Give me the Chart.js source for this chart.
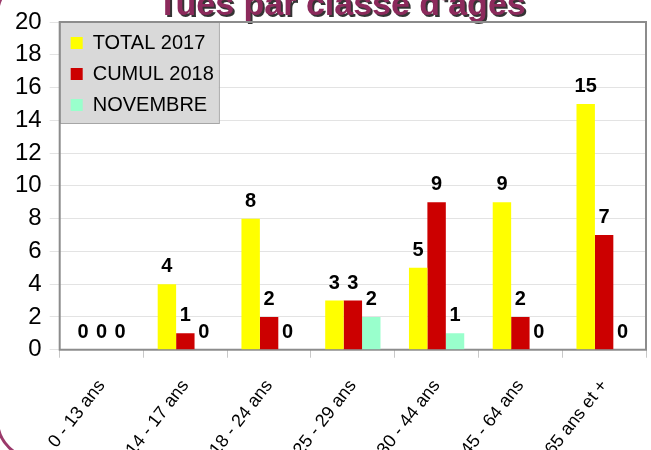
<!DOCTYPE html>
<html>
<head>
<meta charset="utf-8">
<script src="https://cdn.jsdelivr.net/npm/chart.js@4/dist/chart.umd.min.js"></script>
<style>
  html, body { margin: 0; padding: 0; background: #fff; overflow: hidden; }
  #zone { position: relative; width: 651px; height: 450px; overflow: hidden; background: #fff; }
  #bord { position: absolute; left: -4px; top: -25px; width: 700px; height: 485px; box-sizing: border-box;
          border: 3px solid #9b3a6b; border-radius: 40px; }
  #ages { position: absolute; left: 0; top: -13px; }
</style>
</head>
<body>
<div id="zone"><div id="bord"></div><canvas id="ages" width="651" height="492"></canvas></div>
<script>
// catégories et séries
const classes = ['0 - 13 ans', '14 - 17 ans', '18 - 24 ans', '25 - 29 ans', '30 - 44 ans', '45 - 64 ans', '65 ans et +'];
const total2017 = [0, 4, 8, 3, 5, 9, 15];
const cumul2018 = [0, 1, 2, 3, 9, 2, 7];
const novembre = [0, 0, 0, 2, 1, 0, 0];
const graduations = [0, 2, 4, 6, 8, 10, 12, 14, 16, 18, 20];

const police = 'Liberation Sans';

// valeurs au-dessus des barres
const etiquettes = {
  id: 'etiquettes',
  afterDatasetsDraw(chart) {
    const ctx = chart.ctx;
    ctx.save();
    ctx.font = 'bold 20px "' + police + '"';
    ctx.fillStyle = '#000';
    ctx.textAlign = 'center';
    ctx.textBaseline = 'alphabetic';
    chart.data.datasets.forEach((ds, i) => {
      chart.getDatasetMeta(i).data.forEach((barre, j) => {
        ctx.fillText(String(ds.data[j]), barre.x, barre.y - 12);
      });
    });
    ctx.restore();
  }
};

// cadre gris autour de la zone du graphique
const cadre = {
  id: 'cadre',
  beforeDatasetsDraw(chart) {
    const a = chart.chartArea;
    const ctx = chart.ctx;
    ctx.save();
    ctx.strokeStyle = '#8c8c8c';
    ctx.lineWidth = 2;
    ctx.strokeRect(a.left, a.top, a.right - a.left, a.bottom - a.top);
    ctx.restore();
  }
};

// ombre du titre + fond gris de la légende
const habillage = {
  id: 'habillage',
  afterUpdate(chart) {
    // la légende "chartArea" se place en haut du canvas : on la recale sur la zone
    const lg = chart.legend;
    if (lg) {
      const delta = chart.chartArea.top - lg.top;
      lg.top += delta;
      lg.bottom += delta;
      (lg.legendHitBoxes || []).forEach(b => { b.top += delta; });
    }
  },
  beforeDraw(chart) {
    const t = chart.titleBlock;
    if (t && !t._ombre) {
      const dessin = t.draw.bind(t);
      t.draw = function (zone) {
        const ctx = chart.ctx;
        ctx.save();
        ctx.translate(15, 2);
        ctx.shadowColor = 'rgba(30,30,30,0.9)';
        ctx.shadowOffsetX = 2;
        ctx.shadowOffsetY = 2;
        ctx.shadowBlur = 0;
        dessin(zone);
        ctx.restore();
      };
      t._ombre = true;
    }
    const lg = chart.legend;
    if (lg && !lg._fond) {
      const dessinLg = lg.draw.bind(lg);
      lg.draw = function (zone) {
        const boites = this.legendHitBoxes || [];
        if (boites.length) {
          const pad = this.options.labels.padding;
          let large = 0;
          boites.forEach(b => { large = Math.max(large, b.width); });
          const der = boites[boites.length - 1];
          const ctx = chart.ctx;
          ctx.save();
          ctx.fillStyle = '#d9d9d9';
          ctx.strokeStyle = '#a6a6a6';
          ctx.lineWidth = 1;
          const x = this.left, y = this.top;
          const w = large + pad + 5, h = der.top + der.height + pad - 3 - y;
          ctx.fillRect(x, y, w, h);
          ctx.strokeRect(x + 0.5, y + 0.5, w, h);
          ctx.restore();
        }
        dessinLg(zone);
      };
      lg._fond = true;
    }
  }
};

const donnees = {
  labels: classes,
  datasets: [
    { label: 'TOTAL 2017', data: total2017, backgroundColor: '#ffff00' },
    { label: 'CUMUL 2018', data: cumul2018, backgroundColor: '#cc0000' },
    { label: 'NOVEMBRE', data: novembre, backgroundColor: '#99ffcc' }
  ]
};

const options = {
  responsive: false,
  animation: false,
  layout: { padding: { left: 7, right: 5, top: 0, bottom: 1 } },
  datasets: { bar: { categoryPercentage: 0.66, barPercentage: 1 } },
  scales: {
    x: {
      grid: { drawOnChartArea: false, tickLength: 8, color: '#c8c8c8' },
      border: { display: false },
      ticks: {
        color: '#000',
        maxRotation: 52,
        minRotation: 52,
        padding: 18,
        font: { family: police, size: 18 }
      }
    },
    y: {
      min: 0,
      max: 20,
      afterBuildTicks(axe) { axe.ticks = graduations.map(v => ({ value: v })); },
      grid: { color: '#e3e3e3', tickLength: 10 },
      border: { display: false },
      ticks: { color: '#000', padding: 8, font: { family: police, size: 24 } }
    }
  },
  plugins: {
    title: {
      display: true,
      text: "Tués par classe d'âges",
      color: '#8c2a5c',
      font: { family: police, size: 34, weight: 'bold', lineHeight: 1 },
      padding: { top: 0, bottom: 1 }
    },
    legend: {
      position: 'chartArea',
      align: 'start',
      labels: {
        color: '#000',
        boxWidth: 12,
        boxHeight: 12,
        padding: 11,
        font: { family: police, size: 20 }
      }
    },
    tooltip: { enabled: false }
  }
};

new Chart(document.getElementById('ages'), {
  type: 'bar',
  data: donnees,
  options: options,
  plugins: [habillage, cadre, etiquettes]
});
</script>
</body>
</html>
